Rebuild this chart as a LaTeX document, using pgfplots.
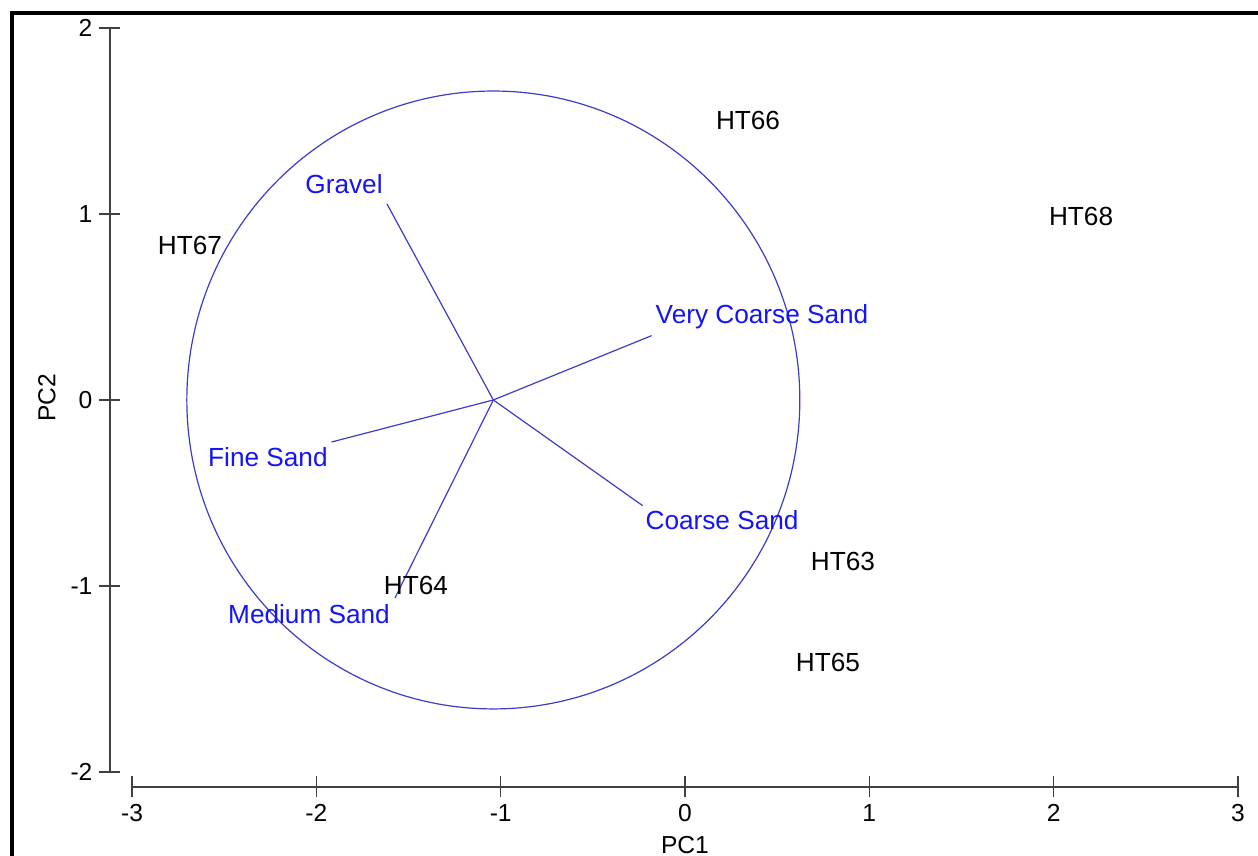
\documentclass[border=0pt]{standalone}
\usepackage{fontspec}
\setmainfont{Liberation Sans}
\usepackage{pgfplots}
\usepackage{pgfplotstable}
\pgfplotsset{compat=1.18}
\definecolor{vec}{RGB}{60,60,200}
\definecolor{lab}{RGB}{20,20,245}
\definecolor{axc}{RGB}{64,64,64}

\pgfplotstableread[col sep=comma]{
x,y,label
-1.850,1.161,Gravel
0.418,0.446,Very Coarse Sand
-2.263,-0.306,Fine Sand
0.201,-0.645,Coarse Sand
-2.040,-1.151,Medium Sand
}\vectorlabels

\pgfplotstableread[col sep=comma]{
x,y,label
0.342,1.505,HT66
2.149,0.984,HT68
-2.686,0.833,HT67
-1.460,-0.995,HT64
0.857,-0.866,HT63
0.776,-1.409,HT65
}\samples

\begin{document}
\begin{tikzpicture}
\begin{axis}[
  scale only axis,
  x=92.15pt, y=93pt,
  xmin=-3.12, xmax=3, ymin=-2.08, ymax=2,
  axis x line=bottom, axis y line=left,
  axis line style={axc, line width=0.75pt, -},
  x axis line style={shorten <=11.06pt},
  y axis line style={shorten <=7.44pt},
  xtick={-3,...,3}, ytick={-2,...,2},
  tick align=center, major tick length=10.5pt,
  tick style={axc, line width=0.75pt},
  /pgf/number format/assume math mode=true,
  ticklabel style={font=\fontsize{12.3}{14}\selectfont},
  every axis x label/.style={at={(axis description cs:0.5098,-0.0765)}, anchor=center, font=\fontsize{12.3}{14}\selectfont},
  every axis y label/.style={at={(axis description cs:-0.05585,0.5124)}, anchor=center, rotate=90, font=\fontsize{12.3}{14}\selectfont},
  xlabel={PC1}, ylabel={PC2},
  clip=false,
]
% circle
\draw[vec, line width=0.6pt] (axis cs:-1.04,0) ellipse [x radius=1.663, y radius=1.661];
% vectors
\addplot[vec, line width=0.6pt] coordinates {(-1.04,0) (-1.617,1.054)};
\addplot[vec, line width=0.6pt] coordinates {(-1.04,0) (-0.181,0.346)};
\addplot[vec, line width=0.6pt] coordinates {(-1.04,0) (-1.918,-0.226)};
\addplot[vec, line width=0.6pt] coordinates {(-1.04,0) (-0.230,-0.568)};
\addplot[vec, line width=0.6pt] coordinates {(-1.04,0) (-1.574,-1.065)};
% labels
\addplot[only marks, mark=*, mark size=0pt, mark options={draw=none, fill=none},
  nodes near coords, point meta=explicit symbolic,
  every node near coord/.style={anchor=center, inner sep=0pt, text=lab, font=\fontsize{13.1}{15}\selectfont}]
  table[x=x, y=y, meta=label] {\vectorlabels};
\addplot[only marks, mark=*, mark size=0pt, mark options={draw=none, fill=none},
  nodes near coords, point meta=explicit symbolic,
  every node near coord/.style={anchor=center, inner sep=0pt, text=black, font=\fontsize{13.1}{15}\selectfont}]
  table[x=x, y=y, meta=label] {\samples};
% frame
\draw[black, line width=1.6pt] (axis cs:-3.6517,2.0806) rectangle (axis cs:3.4,-2.7);
\coordinate (bbl) at (axis cs:-3.7168,-2.4516);
\coordinate (btr) at (axis cs:3.1091,2.1505);
\end{axis}
\pgfresetboundingbox
\path[use as bounding box] (bbl) rectangle (btr);
\end{tikzpicture}
\end{document}
